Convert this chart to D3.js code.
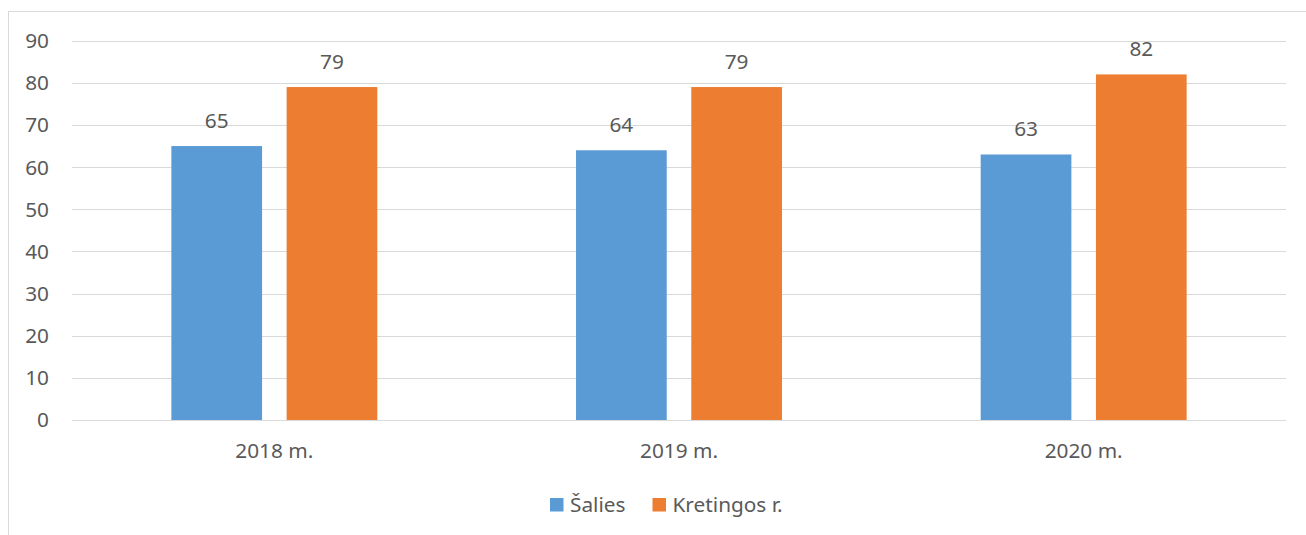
<!DOCTYPE html>
<html>
<head>
<meta charset="utf-8">
<script src="https://cdn.jsdelivr.net/npm/d3@7"></script>
<style>
  body { margin: 0; background: #fff; }
  svg { display: block; font-family: "Noto Sans", "Open Sans", sans-serif; }
</style>
</head>
<body>
<div id="chart"></div>
<script>
const years = ['2018 m.', '2019 m.', '2020 m.'];
const seriesNames = ['Šalies', 'Kretingos r.'];
const salies = [65, 64, 63];
const kretingos = [79, 79, 82];
const yTicks = [0, 10, 20, 30, 40, 50, 60, 70, 80, 90];
const colors = ['#5B9BD5', '#ED7D31'];

const width = 1306, height = 535;
const margin = {top: 40.7, right: 20, bottom: 115, left: 72};
const plotRight = 1286;
const fontSize = 20.8;

const svg = d3.select('#chart').append('svg')
    .attr('width', width)
    .attr('height', height);

// outer chart border (only left and top visible in frame)
svg.append('rect')
    .attr('x', 8.5).attr('y', 11.5)
    .attr('width', width + 20).attr('height', height + 20)
    .attr('fill', 'none')
    .attr('stroke', '#d9d9d9');

const y = d3.scaleLinear().domain([0, 90]).range([420, margin.top]);
const x0 = d3.scaleBand().domain(years).range([margin.left, plotRight]);
const x1 = d3.scaleBand().domain(seriesNames)
    .range([0, x0.bandwidth()])
    .paddingInner(0.213)
    .paddingOuter(0.862);

const textColor = '#595959';

// gridlines
svg.append('g')
    .selectAll('line')
    .data(yTicks)
    .join('line')
    .attr('x1', margin.left).attr('x2', plotRight)
    .attr('y1', d => Math.round(y(d)) + 0.5)
    .attr('y2', d => Math.round(y(d)) + 0.5)
    .attr('stroke', '#d9d9d9')
    .attr('stroke-width', 1);

// y axis labels
svg.append('g')
    .selectAll('text')
    .data(yTicks)
    .join('text')
    .attr('x', 49)
    .attr('y', d => y(d))
    .attr('dy', '0.36em')
    .attr('text-anchor', 'end')
    .attr('font-size', fontSize)
    .attr('fill', textColor)
    .text(d => d);

const rows = years.map((yr, i) => ({year: yr, values: [salies[i], kretingos[i]]}));

const groups = svg.append('g')
    .selectAll('g')
    .data(rows)
    .join('g')
    .attr('transform', d => 'translate(' + x0(d.year) + ',0)');

const bars = groups.selectAll('g.bar')
    .data(d => d.values.map((v, j) => ({name: seriesNames[j], value: v, idx: j})))
    .join('g')
    .classed('bar', true);

bars.append('rect')
    .attr('x', d => x1(d.name))
    .attr('y', d => y(d.value))
    .attr('width', x1.bandwidth())
    .attr('height', d => y(0) - y(d.value))
    .attr('fill', d => colors[d.idx]);

bars.append('text')
    .attr('x', d => x1(d.name) + x1.bandwidth() / 2)
    .attr('y', d => y(d.value) - 18)
    .attr('text-anchor', 'middle')
    .attr('font-size', fontSize)
    .attr('fill', textColor)
    .text(d => d.value);

// x axis labels
svg.append('g')
    .selectAll('text')
    .data(years)
    .join('text')
    .attr('x', d => x0(d) + x0.bandwidth() / 2)
    .attr('y', 458)
    .attr('text-anchor', 'middle')
    .attr('font-size', fontSize)
    .attr('fill', textColor)
    .text(d => d);

// legend
const legendX = [550, 652.5];
const legend = svg.append('g')
    .selectAll('g')
    .data(seriesNames)
    .join('g')
    .attr('transform', (d, i) => 'translate(' + legendX[i] + ',498)');

legend.append('rect')
    .attr('width', 13.5).attr('height', 13.5)
    .attr('fill', (d, i) => colors[i]);

legend.append('text')
    .attr('x', 20)
    .attr('y', 13.5)
    .attr('font-size', fontSize)
    .attr('fill', textColor)
    .text(d => d);
</script>
</body>
</html>
